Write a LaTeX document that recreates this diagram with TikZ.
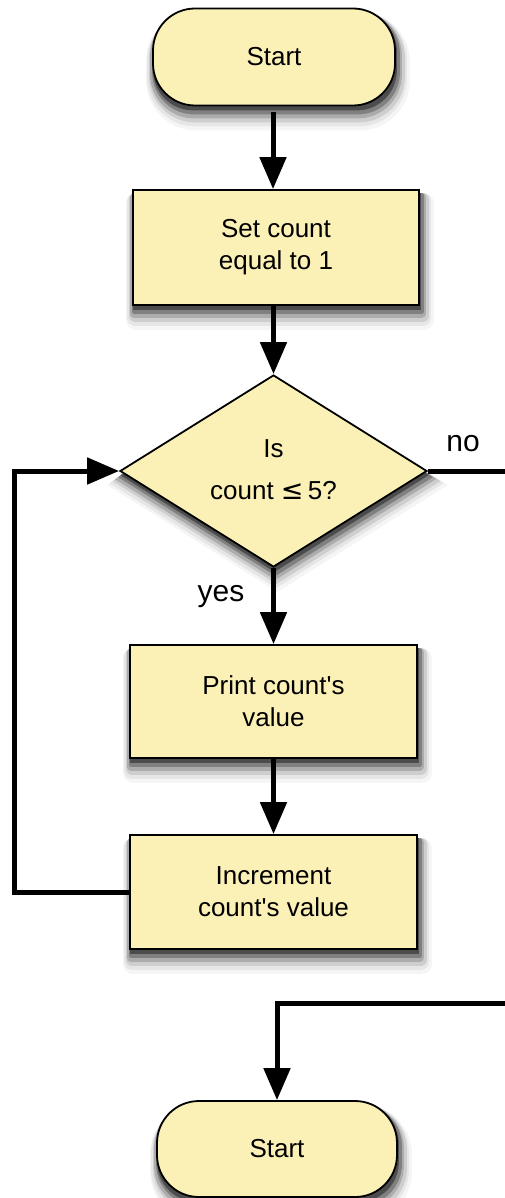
\documentclass[tikz,border=0pt]{standalone}
\usepackage{fontspec}
\setmainfont{Liberation Sans}[Ligatures=TeXOff]
\newfontfamily\symfont{DejaVu Sans}
\usetikzlibrary{arrows.meta,shapes.geometric}
\pgfdeclarelayer{shadowlayer}
\pgfsetlayers{shadowlayer,main}
\definecolor{boxfill}{HTML}{FBF0B6}
\tikzset{
  boxtext/.style={font=\fontsize{26}{32}\selectfont, align=center, text=black},
  terminal/.style={boxtext, draw=black, line width=1.8pt, fill=boxfill, rectangle, rounded corners=42pt, minimum width=242pt, minimum height=97pt, inner sep=0pt},
  process/.style={boxtext, draw=black, line width=1.8pt, fill=boxfill, rectangle, minimum width=287pt, minimum height=114pt, inner sep=0pt},
  decision/.style={boxtext, draw=black, line width=1.8pt, fill=boxfill, diamond, minimum width=307pt, minimum height=192pt, inner sep=0pt},
  flowarrow/.style={line width=5pt, -{Triangle[width=26pt,length=32pt]}},
  flowline/.style={line width=5pt},
  branchlabel/.style={font=\fontsize{30}{36}\selectfont, text=black, inner sep=0pt},
  shadowfill/.style={fill=black, opacity=#1}
}
\newcommand\shadowsteps{1/4/0/0.40, 2/6/2/0.25, 2/8/4/0.16, 3/10/6/0.10, 3/12/8/0.06, 4/14/10/0.04}
\newcommand\rectshadow[2]{% node, corner radius
  \foreach \dx/\dy/\e/\op in \shadowsteps{
    \fill[shadowfill=\op, rounded corners={#2+\e}]
      ([shift={({\dx-\e},{\dy-\e})}]#1.north west) rectangle ([shift={({\dx+\e},{\dy+\e})}]#1.south east);
  }}
\newcommand\diamshadow[1]{%
  \foreach \dx/\dy/\e/\op in \shadowsteps{
    \fill[shadowfill=\op]
      ([shift={(\dx,{\dy-\e})}]#1.north) -- ([shift={({\dx+1.6*\e},\dy)}]#1.east) --
      ([shift={(\dx,{\dy+\e})}]#1.south) -- ([shift={({\dx-1.6*\e},\dy)}]#1.west) -- cycle;
  }}
\begin{document}
\begin{tikzpicture}[x=1pt,y=-1pt]
\useasboundingbox (0,0) rectangle (504,1198);

\node[terminal] (start) at (274,57) {Start};
\node[process, minimum width=286pt, minimum height=115pt] (set) at (276,247.5) {Set count\\equal to 1};
\node[decision] (dec) at (273.5,471) {};
\node[boxtext, font=\fontsize{26}{42}\selectfont] (dectext) at (273.5,470) {Is\\count {\symfont\fontsize{27}{42}\selectfont ≤}\,5?};
\node[process, minimum height=113pt] (print) at (273.5,701.5) {Print count's\\value};
\node[process] (inc) at (273.5,892) {Increment\\count's value};
\node[terminal, minimum width=240pt, minimum height=96pt] (end) at (277,1149) {Start};

\begin{pgfonlayer}{shadowlayer}
\fill[white] (0,0) rectangle (504,1198);
\rectshadow{start}{40pt}
\rectshadow{set}{0pt}
\diamshadow{dec}
\rectshadow{print}{0pt}
\rectshadow{inc}{0pt}
\rectshadow{end}{40pt}
\end{pgfonlayer}

\node[branchlabel] (nolab) at (463,444) {no};
\node[branchlabel] (yeslab) at (221,597) {yes};

\coordinate (loopx) at (14,0);
\coordinate (noright) at (512,471);
\coordinate (noback) at (512,1003);

\draw[flowarrow, shorten <=6pt] (start.south -| 273,0) -- (set.north -| 273,0);
\draw[flowarrow] (set.south -| 273.5,0) -- (dec.north);
\draw[flowarrow] (dec.south) -- (print.north);
\draw[flowarrow] (print.south) -- (inc.north);
\draw[flowarrow] (inc.west) -- (inc.west -| loopx) |- (dec.west);
\draw[flowline] (dec.east) -- (noright);
\draw[flowarrow] (noback) -| (end.north);
\end{tikzpicture}
\end{document}
